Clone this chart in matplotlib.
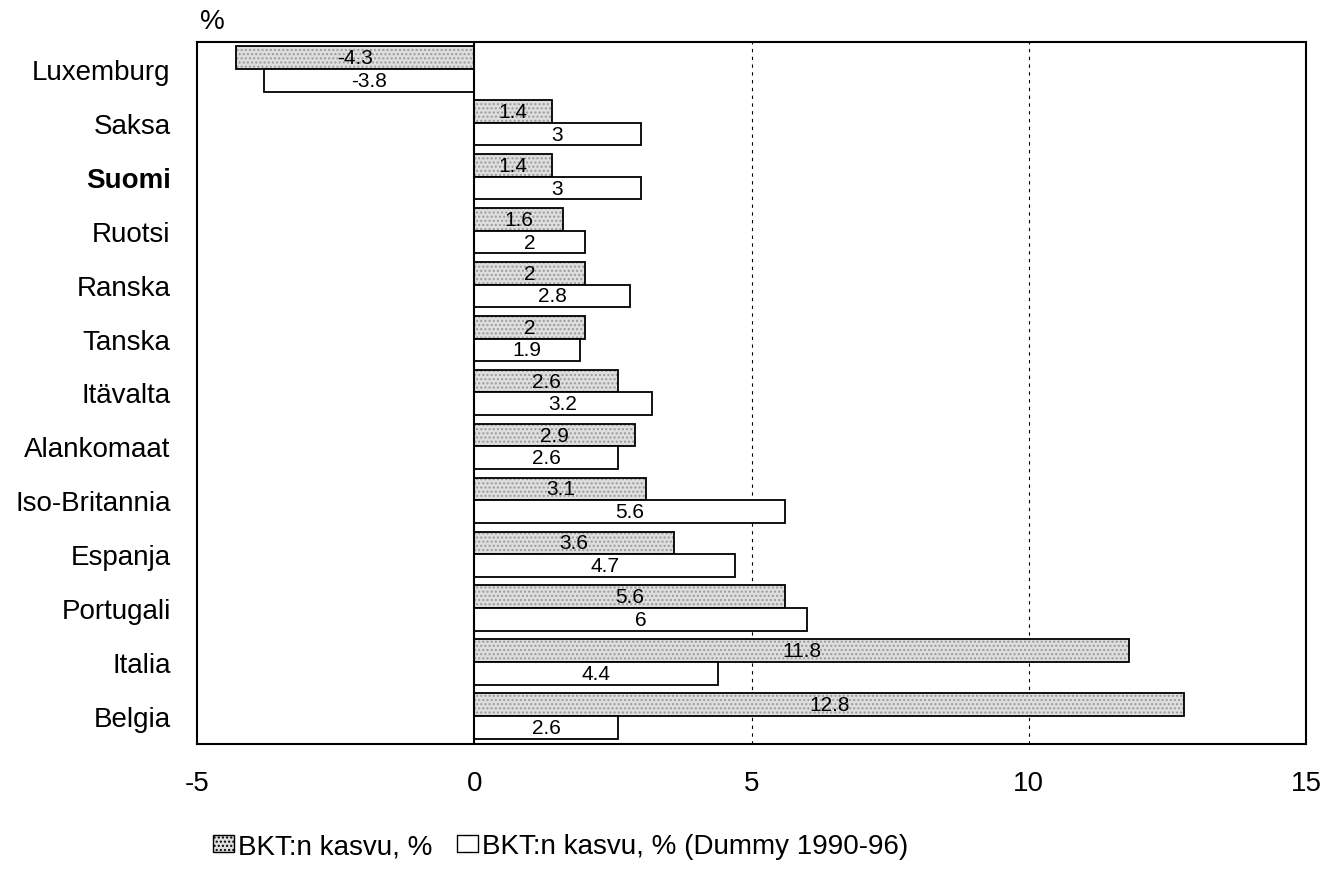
import matplotlib.pyplot as plt
import matplotlib.patches as mpatches
import numpy as np

plt.rcParams['font.family'] = ['Liberation Sans', 'DejaVu Sans']

maat = ["Luxemburg", "Saksa", "Suomi", "Ruotsi", "Ranska", "Tanska", "Itävalta",
        "Alankomaat", "Iso-Britannia", "Espanja", "Portugali", "Italia", "Belgia"]
kasvu = [-4.3, 1.4, 1.4, 1.6, 2, 2, 2.6, 2.9, 3.1, 3.6, 5.6, 11.8, 12.8]
kasvu_dummy = [-3.8, 3, 3, 2, 2.8, 1.9, 3.2, 2.6, 5.6, 4.7, 6, 4.4, 2.6]
xticks = [-5, 0, 5, 10, 15]

fig = plt.figure(figsize=(13.26, 8.70), dpi=100)
ax = fig.add_axes([0.1486, 0.1437, 0.8364, 0.8069])

y = np.arange(len(maat))
h = 0.42

# harmaa sarja: täyttö + pistekuvio + reunaviiva
ax.barh(y - h / 2, kasvu, height=h, color="#dedede", edgecolor="#9a9a9a",
        hatch="....", linewidth=0, zorder=2)
ax.barh(y - h / 2, kasvu, height=h, fill=False, edgecolor="black", linewidth=1.3, zorder=3)
ax.barh(y + h / 2, kasvu_dummy, height=h, color="white", edgecolor="black",
        linewidth=1.3, zorder=3)

for i in range(len(maat)):
    ax.text(kasvu[i] / 2, y[i] - h / 2, f"{kasvu[i]:g}", ha="center", va="center",
            fontsize=15, zorder=4)
    ax.text(kasvu_dummy[i] / 2, y[i] + h / 2, f"{kasvu_dummy[i]:g}", ha="center",
            va="center", fontsize=15, zorder=4)

ax.axvline(0, color="black", linewidth=1.5, zorder=4)
for xv in [5, 10]:
    ax.axvline(xv, color="black", linewidth=0.8, linestyle=(0, (3, 4)), zorder=1)

ax.set_xlim(-5, 15)
ax.set_ylim(len(maat) - 0.5 + 0.02, -0.5)
ax.set_xticks(xticks)
ax.set_xticklabels([str(t) for t in xticks], fontsize=20)
ax.set_yticks(y)
ax.set_yticklabels(maat, fontsize=20)
for lab in ax.get_yticklabels():
    if lab.get_text() == "Suomi":
        lab.set_fontweight("bold")
ax.tick_params(axis="both", length=0)
ax.tick_params(axis="x", pad=19)
ax.tick_params(axis="y", pad=19)
for s in ax.spines.values():
    s.set_linewidth(1.5)

fig.text(0.151, 0.975, "%", fontsize=20, ha="left", va="center")

p1 = mpatches.Patch(facecolor="#dedede", edgecolor="black", hatch="....", label="BKT:n kasvu, %")
p2 = mpatches.Patch(facecolor="white", edgecolor="black", label="BKT:n kasvu, % (Dummy 1990-96)")
fig.legend(handles=[p1, p2], loc="center", bbox_to_anchor=(0.423, 0.026), ncol=2,
           frameon=False, fontsize=20, handlelength=0.75, handleheight=0.6,
           handletextpad=0.15, columnspacing=0.9, borderpad=0)

fig.savefig("out.png", dpi=100)
